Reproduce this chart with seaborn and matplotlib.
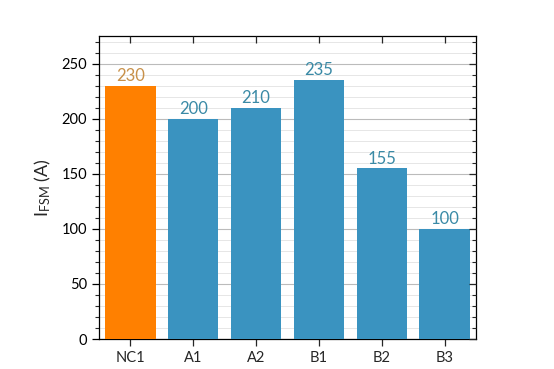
import matplotlib
matplotlib.use("Agg")
import matplotlib.pyplot as plt
import seaborn as sns
import pandas as pd
from matplotlib.ticker import MultipleLocator

categories = ["NC1", "A1", "A2", "B1", "B2", "B3"]
values = [230, 200, 210, 235, 155, 100]
bar_colors = ["#FF8000", "#3A93C0", "#3A93C0", "#3A93C0", "#3A93C0", "#3A93C0"]
label_colors = ["#C8914A", "#3A8AA6", "#3A8AA6", "#3A8AA6", "#3A8AA6", "#3A8AA6"]

sns.set_style("white")
plt.rcParams['font.family'] = ['Lato', 'DejaVu Sans']
plt.rcParams['mathtext.fontset'] = 'custom'
plt.rcParams['mathtext.rm'] = 'Lato'

df = pd.DataFrame({"cat": categories, "val": values})

fig = plt.figure(figsize=(5.54, 3.69), dpi=100)
ax = fig.add_axes([0.1787, 0.0813, 0.6805, 0.8211])

sns.barplot(data=df, x="cat", y="val", hue="cat", palette=bar_colors,
            width=0.8, saturation=1, legend=False, ax=ax, zorder=3,
            linewidth=0, edgecolor="none")

for i, (v, c) in enumerate(zip(values, label_colors)):
    ax.text(i, v + 1.5, str(v), ha="center", va="bottom", color=c, fontsize=12, zorder=4)

ax.set_xlim(-0.5, 5.5)
ax.set_ylim(0, 275)
ax.yaxis.set_major_locator(MultipleLocator(50))
ax.yaxis.set_minor_locator(MultipleLocator(10))
ax.grid(axis="y", which="major", color="#BBBBBB", lw=0.8, zorder=0)
ax.grid(axis="y", which="minor", color="#E2E2E2", lw=0.6, zorder=0)
ax.grid(axis="x", visible=False)

for s in ax.spines.values():
    s.set_visible(True)
    s.set_color("black")
    s.set_linewidth(0.9)

ax.tick_params(axis="y", which="major", left=True, right=False, direction="out", length=5, width=0.9, labelsize=10.5, colors="black")
ax.tick_params(axis="y", which="minor", left=True, right=False, direction="out", length=3, width=0.8)
ax.tick_params(axis="x", which="major", bottom=True, top=False, direction="out", length=5, width=0.9, labelsize=10.5)

# right axis: inward ticks, no labels
axr = ax.twinx()
axr.set_ylim(ax.get_ylim())
axr.yaxis.set_major_locator(MultipleLocator(50))
axr.yaxis.set_minor_locator(MultipleLocator(10))
axr.tick_params(axis="y", which="major", right=True, direction="in", length=5, width=0.9, labelright=False)
axr.tick_params(axis="y", which="minor", right=True, direction="in", length=3, width=0.8)
axr.grid(False)
for s in axr.spines.values():
    s.set_visible(False)

# top axis: inward ticks, no labels
axt = ax.twiny()
axt.set_xlim(ax.get_xlim())
axt.set_xticks(range(len(categories)))
axt.tick_params(axis="x", which="major", top=True, direction="in", length=5, width=0.9, labeltop=False)
axt.grid(False)
for s in axt.spines.values():
    s.set_visible(False)

ax.set_xlabel("")
ax.set_ylabel(r"$\mathregular{I_{FSM}}$ (A)", fontsize=13, labelpad=6)

fig.savefig("out.png", dpi=100)
